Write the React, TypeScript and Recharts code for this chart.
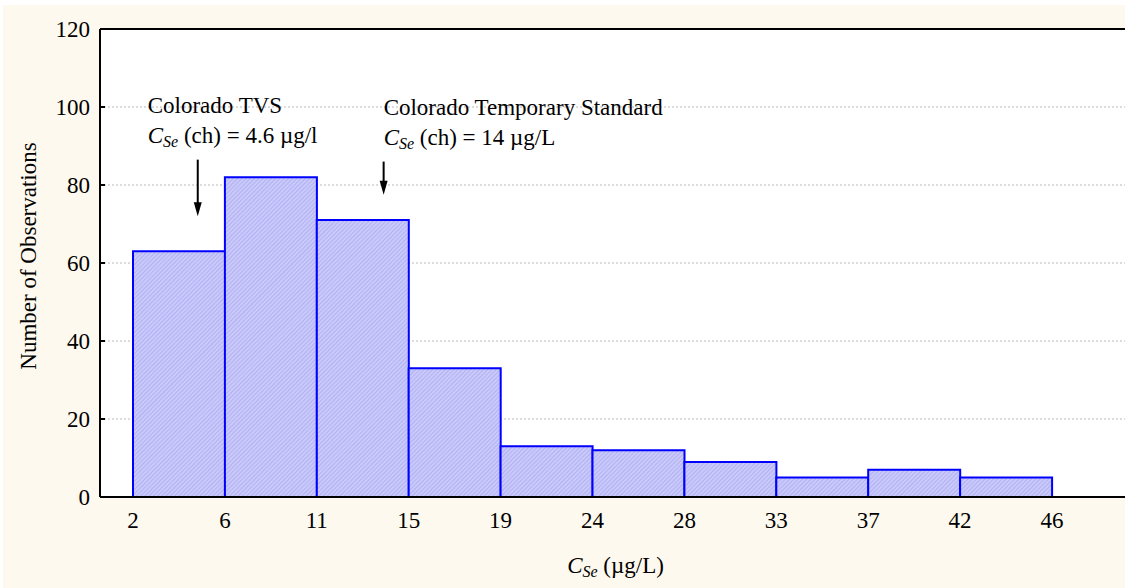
import React from "react";
import {
    ComposedChart,
    Bar,
    XAxis,
    YAxis,
    CartesianGrid,
    ReferenceLine,
} from "recharts";

// histogram classes (C_Se, µg/L) and observation counts
const binNames = ["2-6", "6-11", "11-15", "15-19", "19-24", "24-28", "28-33", "33-37", "37-42", "42-46"];
const counts = [63, 82, 71, 33, 13, 12, 9, 5, 7, 5];

// class edges on the concentration axis and the labels printed under them
const edgeValues = [2, 6.4, 10.8, 15.2, 19.6, 24, 28.4, 32.8, 37.2, 41.6, 46];
const edgeLabels = ["2", "6", "11", "15", "19", "24", "28", "33", "37", "42", "46"];

const yTicks = [0, 20, 40, 60, 80, 100, 120];

// standards marked with arrows
const markers = [
    { x: 5.1, yFrom: 86.5, yTo: 72, title: "Colorado TVS", value: "4.6 µg/l", dx: -50 },
    { x: 14, yFrom: 86, yTo: 77.5, title: "Colorado Temporary Standard", value: "14 µg/L", dx: 0 },
];

const data = binNames.map((name, i) => ({ name, lo: edgeValues[i], count: counts[i] }));

const FONT = "'Liberation Serif', 'Times New Roman', serif";
const FS = 23;
const CREAM = "#fef9ee";

function ArrowShape(props: any, m: (typeof markers)[number]) {
    const { x1, y1, x2, y2 } = props;
    if (x1 == null) return <g />;
    const tx = x1 + m.dx;
    return (
        <g fontFamily={FONT} fontSize={FS} fill="#000">
            <text x={tx} y={y1 - 47}>{m.title}</text>
            <text x={tx} y={y1 - 17}>
                <tspan fontStyle="italic">C</tspan>
                <tspan fontStyle="italic" fontSize={16} dy={4}>Se</tspan>
                <tspan dy={-4}>{` (ch) = ${m.value}`}</tspan>
            </text>
            <line x1={x1} y1={y1} x2={x2} y2={y2 - 10} stroke="#000" strokeWidth={2} />
            <polygon points={`${x2 - 4},${y2 - 14} ${x2},${y2} ${x2 + 4},${y2 - 14}`} fill="#000" />
        </g>
    );
}

export default function App() {
    return (
        <div style={{ position: "absolute", left: 0, top: 0, width: 1125, height: 588, background: "#fff" }}>
            <div style={{ position: "absolute", left: 3, top: 5, width: 1122, height: 583, background: CREAM }}>
                <ComposedChart
                    width={1122}
                    height={583}
                    data={data}
                    barCategoryGap={0}
                    margin={{ top: 24, right: 0, bottom: 31, left: 0 }}
                >
                    <defs>
                        <pattern id="hatch" patternUnits="userSpaceOnUse" width={3} height={3} patternTransform="rotate(45)">
                            <rect width={3} height={3} fill="#c9c9fa" />
                            <line x1={0} y1={0} x2={0} y2={3} stroke="#a3a3f0" strokeWidth={1.2} />
                        </pattern>
                    </defs>
                    <CartesianGrid
                        xAxisId="edges"
                        vertical={false}
                        fill="#fff"
                        stroke="#b8b8b8"
                        strokeDasharray="2 2"
                    />
                    <XAxis
                        xAxisId="bins"
                        dataKey="name"
                        orientation="top"
                        hide
                        padding={{ left: 33, right: 73 }}
                    />
                    <XAxis
                        xAxisId="edges"
                        dataKey="lo"
                        type="number"
                        domain={[2, 46]}
                        ticks={edgeValues}
                        tickFormatter={(v, i) => edgeLabels[i]}
                        padding={{ left: 33, right: 73 }}
                        allowDataOverflow
                        height={60}
                        tickLine={false}
                        tickSize={0}
                        tickMargin={15}
                        axisLine={{ stroke: "#000", strokeWidth: 2 }}
                        tick={{ fill: "#000", fontSize: FS, fontFamily: FONT }}
                        label={{
                            content: (p: any) => {
                                const vb = p.viewBox || {};
                                return (
                                    <text
                                        x={vb.x + vb.width / 2 + 3}
                                        y={vb.y + 76}
                                        textAnchor="middle"
                                        fontFamily={FONT}
                                        fontSize={FS}
                                        fill="#000"
                                    >
                                        <tspan fontStyle="italic">C</tspan>
                                        <tspan fontStyle="italic" fontSize={16} dy={4}>Se</tspan>
                                        <tspan dy={-4}> (µg/L)</tspan>
                                    </text>
                                );
                            },
                        }}
                    />
                    <YAxis
                        domain={[0, 120]}
                        ticks={yTicks}
                        width={97}
                        tickSize={-5}
                        tickMargin={15}
                        tickLine={{ stroke: "#000", strokeWidth: 2 }}
                        axisLine={{ stroke: "#000", strokeWidth: 2 }}
                        tick={{ fill: "#000", fontSize: FS, fontFamily: FONT }}
                        label={{
                            content: (p: any) => {
                                const vb = p.viewBox || {};
                                const cx = 33;
                                const cy = vb.y + vb.height / 2 - 7;
                                return (
                                    <text
                                        x={cx}
                                        y={cy}
                                        transform={`rotate(-90, ${cx}, ${cy})`}
                                        textAnchor="middle"
                                        fontFamily={FONT}
                                        fontSize={FS}
                                        fill="#000"
                                    >
                                        Number of Observations
                                    </text>
                                );
                            },
                        }}
                    />
                    <ReferenceLine xAxisId="edges" y={120} stroke="#000" strokeWidth={2} />
                    <Bar
                        xAxisId="bins"
                        dataKey="count"
                        fill="url(#hatch)"
                        stroke="#0000ff"
                        strokeWidth={2}
                        isAnimationActive={false}
                    />
                    {markers.map((m) => (
                        <ReferenceLine
                            key={m.title}
                            xAxisId="edges"
                            segment={[
                                { x: m.x, y: m.yFrom },
                                { x: m.x, y: m.yTo },
                            ]}
                            shape={(p: any) => ArrowShape(p, m)}
                        />
                    ))}
                </ComposedChart>
            </div>
        </div>
    );
}
